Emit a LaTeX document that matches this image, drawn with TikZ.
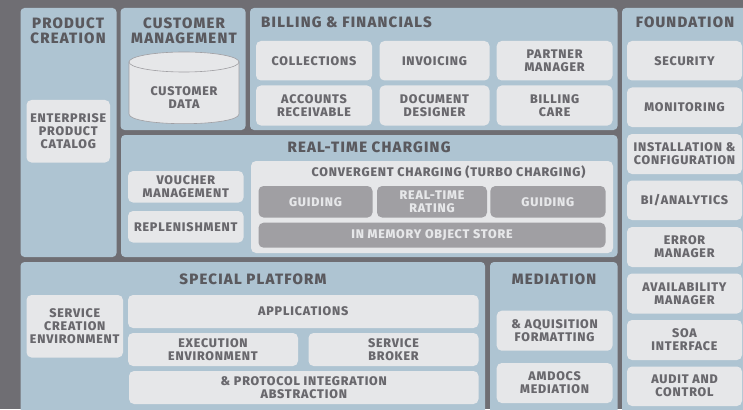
\documentclass[tikz,border=0pt]{standalone}
\usepackage{fontspec}
\setmainfont{Fira Sans}[BoldFont={Fira Sans ExtraBold},LetterSpace=6.5]
\definecolor{bgc}{HTML}{6F6E73}
\definecolor{panelc}{HTML}{AEC4D2}
\definecolor{boxc}{HTML}{E6E7E9}
\definecolor{darkc}{HTML}{A09FA3}
\definecolor{textc}{HTML}{69686D}
\definecolor{titlec}{HTML}{5A595E}
\tikzset{
  panelbox/.style={fill=panelc,rounded corners=4pt,inner sep=0},
  lightbox/.style={fill=boxc,rounded corners=5pt,inner sep=0,align=center,text=textc,font=\bfseries\fontsize{12.5}{13}\selectfont},
  darkbox/.style={fill=darkc,rounded corners=5pt,inner sep=0,align=center,text=boxc,font=\bfseries\fontsize{12.5}{13}\selectfont},
  titletext/.style={inner sep=0,align=center,text=titlec,font=\bfseries\fontsize{15}{15}\selectfont\addfontfeature{LetterSpace=8}},
  subtitletext/.style={inner sep=0,align=center,text=textc,font=\bfseries\fontsize{12.5}{13}\selectfont},
  bodytext/.style={inner sep=0,align=center,text=textc,font=\bfseries\fontsize{12.5}{13}\selectfont},
  cylinderline/.style={fill=boxc,draw=darkc,line width=.6pt}
}
% name, x1, y1, x2, y2, style, text
\newcommand{\bx}[7]{%
  \pgfmathsetmacro{\cxv}{(#2+#4)/2}%
  \pgfmathsetmacro{\cyv}{(#3+#5)/2}%
  \pgfmathsetmacro{\wv}{#4-#2}%
  \pgfmathsetmacro{\hv}{#5-#3}%
  \node[#6,minimum width=\wv pt,minimum height=\hv pt] (#1) at (\cxv,\cyv) {#7};}
\begin{document}
\begin{tikzpicture}[x=1pt,y=-1pt]
\path[use as bounding box] (0,0) rectangle (743,409);
\clip (0,0) rectangle (743,409);
\fill[bgc] (0,0) rectangle (743,409);
% panels
\bx{pProduct}{20.5}{8}{116.5}{257}{panelbox}{}
\bx{pCustomer}{120.5}{8}{245.5}{130}{panelbox}{}
\bx{pBilling}{250}{8}{617.5}{130}{panelbox}{}
\bx{pCharging}{121}{135}{617.5}{257}{panelbox}{}
\bx{pSpecial}{20.5}{262}{485}{420}{panelbox}{}
\bx{pMediation}{490}{262}{617.5}{420}{panelbox}{}
\bx{pFoundation}{622}{8}{760}{420}{panelbox}{}
% titles
\node[titletext] (tProduct) at (68,30.5) {PRODUCT\\CREATION};
\node[titletext] (tCustomer) at (184,30.5) {CUSTOMER\\MANAGEMENT};
\node[titletext,anchor=west] (tBilling) at (261,22.5) {BILLING \& FINANCIALS};
\node[titletext] (tCharging) at (369,147.5) {REAL-TIME CHARGING};
\node[titletext] (tFoundation) at (685,22.5) {FOUNDATION};
\node[titletext] (tSpecial) at (253,279.5) {SPECIAL PLATFORM};
\node[titletext] (tMediation) at (554,279.5) {MEDIATION};
% product
\bx{enterprise}{26.5}{100}{110}{162.5}{lightbox}{ENTERPRISE\\PRODUCT\\CATALOG}
% customer
\path[cylinderline] (129,62) -- (129,114) .. controls (129,120) and (154.6,123.7) .. (184,123.7) .. controls (213.4,123.7) and (239,120) .. (239,114) -- (239,62) -- cycle;
\path[cylinderline] (184,62) ellipse [x radius=55,y radius=10];
\node[bodytext] (custdata) at (184,98) {CUSTOMER\\DATA};
% billing
\bx{collections}{256}{41}{372}{80.5}{lightbox}{COLLECTIONS}
\bx{invoicing}{379.5}{41}{489.5}{80.5}{lightbox}{INVOICING}
\bx{partner}{496.7}{41}{612.5}{80.5}{lightbox}{PARTNER\\MANAGER}
\bx{accounts}{256}{85.5}{372}{125.5}{lightbox}{ACCOUNTS\\RECEIVABLE}
\bx{document}{379.5}{85.5}{489.5}{125.5}{lightbox}{DOCUMENT\\DESIGNER}
\bx{billingcare}{496.7}{85.5}{612.5}{125.5}{lightbox}{BILLING\\CARE}
% charging
\bx{voucher}{128}{171}{243.5}{202.5}{lightbox}{VOUCHER\\MANAGEMENT}
\bx{replenish}{128}{211}{243.5}{242.5}{lightbox}{REPLENISHMENT}
\bx{convergent}{251}{161}{613}{253}{lightbox}{}
\node[subtitletext] (tConvergent) at (448.5,172.5) {CONVERGENT CHARGING (TURBO CHARGING)};
\bx{guidingA}{258.5}{186}{372.5}{217.5}{darkbox}{GUIDING}
\bx{rating}{377}{186}{487}{217.5}{darkbox}{REAL-TIME\\RATING}
\bx{guidingB}{490.3}{186}{605.5}{217.5}{darkbox}{GUIDING}
\bx{store}{258.5}{222.7}{605.5}{247.7}{darkbox}{IN MEMORY OBJECT STORE}
% special
\bx{creation}{26.5}{295}{123}{357.5}{lightbox}{SERVICE\\CREATION\\ENVIRONMENT}
\bx{applications}{128}{295}{478.5}{328}{lightbox}{APPLICATIONS}
\bx{execution}{128}{333}{298}{366}{lightbox}{EXECUTION\\ENVIRONMENT}
\bx{broker}{308.5}{333}{478.5}{366}{lightbox}{SERVICE\\BROKER}
\bx{protocol}{129}{371}{478.5}{404}{lightbox}{\& PROTOCOL INTEGRATION\\ABSTRACTION}
% mediation
\bx{acquisition}{496.7}{310.7}{612.5}{350.7}{lightbox}{\& AQUISITION\\FORMATTING}
\bx{amdocs}{496.7}{363}{612.5}{403}{lightbox}{AMDOCS\\MEDIATION}
% foundation
\bx{security}{627}{41}{742}{80.5}{lightbox}{SECURITY}
\bx{monitoring}{627}{87.5}{742}{127}{lightbox}{MONITORING}
\bx{installation}{627}{134}{742}{174}{lightbox}{INSTALLATION \&\\CONFIGURATION}
\bx{analytics}{627}{180.5}{742}{220}{lightbox}{BI/ANALYTICS}
\bx{errormgr}{627}{227}{742}{267}{lightbox}{ERROR\\MANAGER}
\bx{availability}{627}{273.5}{742}{313.5}{lightbox}{AVAILABILITY\\MANAGER}
\bx{soa}{627}{320}{742}{360}{lightbox}{SOA\\INTERFACE}
\bx{audit}{627}{366.5}{742}{406}{lightbox}{AUDIT AND\\CONTROL}
\end{tikzpicture}
\end{document}
